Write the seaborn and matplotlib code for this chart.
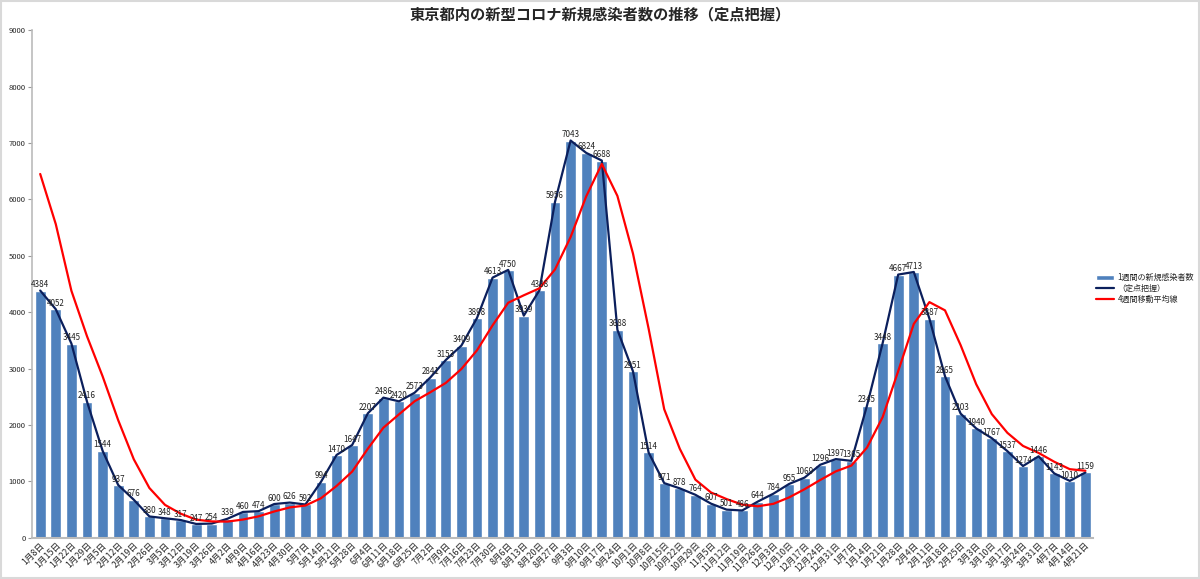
import numpy as np
import pandas as pd
import matplotlib
matplotlib.use("Agg")
import matplotlib.pyplot as plt
import seaborn as sns
from matplotlib.patches import Rectangle

dates = ["1月8日", "1月15日", "1月22日", "1月29日", "2月5日", "2月12日", "2月19日", "2月26日",
         "3月5日", "3月12日", "3月19日", "3月26日", "4月2日", "4月9日", "4月16日", "4月23日",
         "4月30日", "5月7日", "5月14日", "5月21日", "5月28日", "6月4日", "6月11日", "6月18日",
         "6月25日", "7月2日", "7月9日", "7月16日", "7月23日", "7月30日", "8月6日", "8月13日",
         "8月20日", "8月27日", "9月3日", "9月10日", "9月17日", "9月24日", "10月1日", "10月8日",
         "10月15日", "10月22日", "10月29日", "11月5日", "11月12日", "11月19日", "11月26日",
         "12月3日", "12月10日", "12月17日", "12月24日", "12月31日", "1月7日", "1月14日",
         "1月21日", "1月28日", "2月4日", "2月11日", "2月18日", "2月25日", "3月3日", "3月10日",
         "3月17日", "3月24日", "3月31日", "4月7日", "4月14日", "4月21日"]

weekly_cases = [4384, 4052, 3445, 2416, 1544, 937, 676, 380, 348, 317, 247, 254, 339, 460,
                474, 600, 626, 592, 994, 1470, 1647, 2207, 2486, 2420, 2573, 2841, 3153, 3409,
                3898, 4613, 4750, 3939, 4388, 5956, 7043, 6824, 6688, 3688, 2951, 1514, 971,
                878, 764, 607, 501, 486, 644, 784, 955, 1069, 1296, 1397, 1365, 2345, 3448,
                4667, 4713, 3887, 2865, 2203, 1940, 1767, 1537, 1274, 1446, 1143, 1010, 1159]

moving_avg_4w = [6450, 5560, 4380, 3574, 2864, 2086, 1393, 884, 585, 430, 323, 292, 289, 325,
                 382, 468, 540, 573, 703, 921, 1176, 1580, 1953, 2190, 2422, 2580, 2747, 2994,
                 3325, 3768, 4168, 4300, 4423, 4758, 5332, 6053, 6628, 6061, 5038, 3710, 2281,
                 1579, 1032, 805, 688, 590, 560, 604, 717, 863, 1026, 1179, 1282, 1601, 2139,
                 2956, 3793, 4179, 4033, 3417, 2724, 2194, 1862, 1630, 1506, 1350, 1218, 1190]

title = "東京都内の新型コロナ新規感染者数の推移（定点把握）"
label_bar = "1週間の新規感染者数"
label_line = "（定点把握）"
label_avg = "4週間移動平均線"

sns.set_theme(style="white")
plt.rcParams['font.family'] = ['Noto Sans CJK JP', 'DejaVu Sans']

df = pd.DataFrame({"date": dates, "cases": weekly_cases, "avg": moving_avg_4w})
pos = np.arange(len(dates))

fig = plt.figure(figsize=(12, 5.79), dpi=100)
ax = fig.add_axes([0.027, 0.071, 0.884, 0.877])

bar_color = "#4F81BD"
sns.barplot(data=df, x="date", y="cases", color=bar_color, width=0.68, ax=ax,
            saturation=1, label=label_bar)
ax.plot(pos, df["cases"], color="#0B1F5C", lw=1.6, label=label_line)
ax.plot(pos, df["avg"], color="#FF0000", lw=1.6, label=label_avg)

ax.bar_label(ax.containers[0], labels=[str(v) for v in weekly_cases], fontsize=5.8,
             padding=1, color="#222222")

ax.set_xlim(-0.5, len(dates) - 0.5)
ax.set_ylim(0, 9000)
ax.set_yticks(np.arange(0, 9001, 1000))
ax.set_xlabel("")
ax.set_ylabel("")
ax.tick_params(axis="y", labelsize=5.5, length=3, width=0.8, color="#999999", pad=2,
               left=True)
ax.tick_params(axis="x", labelsize=6.3, length=0, pad=2)
plt.setp(ax.get_xticklabels(), rotation=45, ha="right", rotation_mode="anchor")
for s in ["top", "right"]:
    ax.spines[s].set_visible(False)
ax.spines["left"].set_color("#BBBBBB")
ax.spines["bottom"].set_color("#BBBBBB")
ax.spines["left"].set_linewidth(1.2)
ax.spines["bottom"].set_linewidth(1.5)

fig.text(0.5, 0.975, title, ha="center", va="center", fontsize=11, fontweight="bold")

handles, labels = ax.get_legend_handles_labels()
order = [labels.index(label_bar), labels.index(label_line), labels.index(label_avg)]
ax.legend([handles[i] for i in order], [labels[i] for i in order],
          loc="upper left", bbox_to_anchor=(0.913, 0.528), bbox_transform=fig.transFigure,
          frameon=False, fontsize=5.8, handlelength=2.3, handletextpad=0.4,
          labelspacing=0.25, borderaxespad=0, borderpad=0)

fig.patches.append(Rectangle((0.001, 0.001), 0.998, 0.998, transform=fig.transFigure,
                             fill=False, edgecolor="#D9D9D9", lw=1.5))

fig.savefig("out.png", dpi=100)
